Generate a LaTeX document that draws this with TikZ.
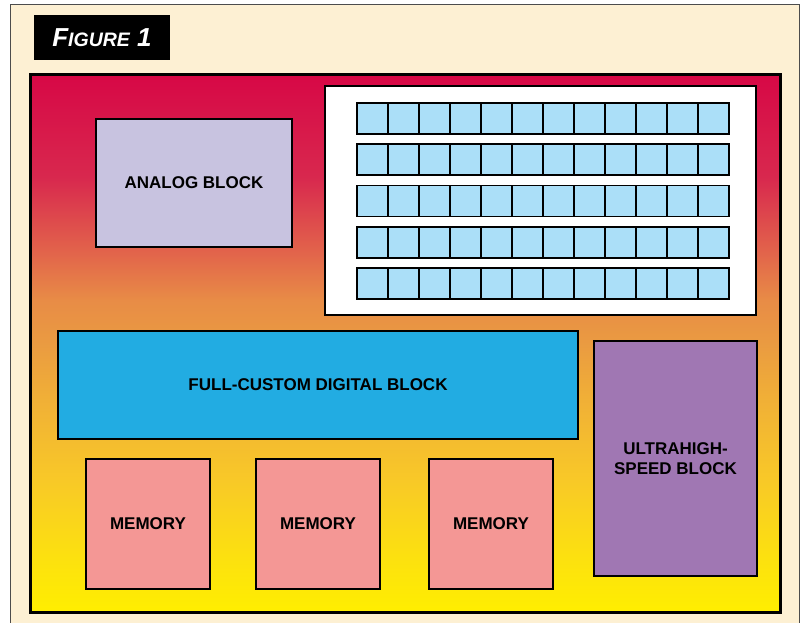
\documentclass[tikz,border=0pt]{standalone}
\usepackage{fontspec}
\setsansfont{Liberation Sans}
\usepackage{xcolor}
\usetikzlibrary{positioning}
\definecolor{panelcream}{RGB}{253,240,211}
\definecolor{chipA}{RGB}{255,238,0}
\definecolor{chipB}{RGB}{252,225,15}
\definecolor{chipC}{RGB}{248,200,40}
\definecolor{chipD}{RGB}{240,175,55}
\definecolor{chipE}{RGB}{234,155,65}
\definecolor{chipF}{RGB}{232,140,70}
\definecolor{chipG}{RGB}{226,100,75}
\definecolor{chipH}{RGB}{216,40,78}
\definecolor{chipI}{RGB}{215,8,70}
\definecolor{analoglav}{RGB}{200,195,224}
\definecolor{cellblue}{RGB}{171,223,248}
\definecolor{digitalblue}{RGB}{34,172,226}
\definecolor{ultrapurple}{RGB}{160,119,179}
\definecolor{memorypink}{RGB}{244,151,149}
\pgfdeclareverticalshading{chipshade}{100bp}{
  color(0bp)=(chipA); color(25bp)=(chipA); color(30bp)=(chipB);
  color(37.5bp)=(chipC); color(45bp)=(chipD); color(50bp)=(chipE);
  color(54bp)=(chipF); color(58.5bp)=(chipG); color(65.5bp)=(chipH);
  color(75bp)=(chipI); color(100bp)=(chipI)}
\tikzset{
  blockbox/.style={
    draw, line width=2.5pt, align=center, inner sep=0pt,
    font=\sffamily\bfseries\fontsize{17}{20}\selectfont
  },
  memorybox/.style={
    blockbox, fill=memorypink, minimum width=124pt, minimum height=130pt
  },
  cellbox/.style={
    draw, line width=1.6pt, fill=cellblue, inner sep=0pt,
    minimum width=31pt, minimum height=31pt
  },
}

\begin{document}
\begin{tikzpicture}[x=1pt, y=-1pt]
  \useasboundingbox (0,0) rectangle (803,623);
  % Page panel
  \draw[fill=panelcream, draw=gray!60!black, line width=1pt]
    (10,5) rectangle (799,640);
  \node[fill=black, text=white, minimum width=136pt, minimum height=45pt,
    font=\sffamily\bfseries\itshape] (figlabel) at (102,37.5)
    {{\fontsize{26}{28}\selectfont F}{\fontsize{19.5}{22}\selectfont IGURE}\fontsize{26}{28}\selectfont\ 1};

  % Chip outline with gradient
  \shade[shading=chipshade] (30,75) rectangle (780,612);
  \draw[line width=3pt] (30,75) rectangle (780,612);

  % Upper blocks
  \node[blockbox, fill=analoglav, minimum width=196pt, minimum height=128pt]
    (analog) at (194,183) {ANALOG BLOCK};
  \node[blockbox, fill=white, minimum width=431pt, minimum height=229pt]
    (array) at (540.5,200.5) {};

  % Cell array
  \foreach \r in {0,...,4} {
    \foreach \c in {0,...,11} {
      \node[cellbox] (cell-\r-\c) at ({372.5+31*\c},{118.5+41.25*\r}) {};
    }
  }

  % Lower blocks
  \node[blockbox, fill=digitalblue, minimum width=520pt, minimum height=108pt]
    (digital) at (318,385) {FULL-CUSTOM DIGITAL BLOCK};
  \node[blockbox, fill=ultrapurple, minimum width=163pt, minimum height=235pt]
    (ultra) at (675.5,458.5) {ULTRAHIGH-\\SPEED BLOCK};
  \node[memorybox] (mem1) at (148,524) {MEMORY};
  \node[memorybox] (mem2) at (318,524) {MEMORY};
  \node[memorybox] (mem3) at (491,524) {MEMORY};
\end{tikzpicture}
\end{document}
